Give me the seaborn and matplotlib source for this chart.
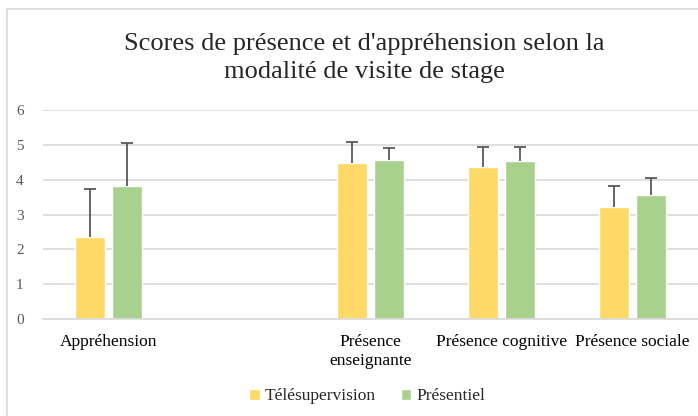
import numpy as np
import pandas as pd
import matplotlib.pyplot as plt
import seaborn as sns
from matplotlib.lines import Line2D

# Values
categories = ["Appréhension", " ", "Présence\nenseignante", "Présence cognitive", "Présence sociale"]
series = ["Télésupervision", "Présentiel"]
tele_means = [2.36, np.nan, 4.47, 4.36, 3.21]
pres_means = [3.82, np.nan, 4.57, 4.53, 3.55]
tele_sd = [1.36, np.nan, 0.62, 0.57, 0.62]
pres_sd = [1.22, np.nan, 0.33, 0.40, 0.49]
y_ticks = [0, 1, 2, 3, 4, 5, 6]

colors = {"Télésupervision": "#FFD966", "Présentiel": "#A9D18E"}

df = pd.DataFrame({
    "categorie": categories * 2,
    "modalite": [series[0]] * len(categories) + [series[1]] * len(categories),
    "score": tele_means + pres_means,
    "sd": tele_sd + pres_sd,
})

sns.set_theme(style="white")
plt.rcParams['font.family'] = ['Liberation Serif', 'DejaVu Serif']

fig = plt.figure(figsize=(6.98, 4.16), dpi=100)
ax = fig.add_axes([43 / 698, 1 - 319 / 416, 1 - 43 / 698, (319 - 110) / 416])

sns.barplot(data=df.dropna(), x="categorie", y="score", hue="modalite",
            order=categories, hue_order=series, palette=colors,
            width=0.565, gap=0.21, errorbar=None, saturation=1,
            legend=True, ax=ax)

# plus-only error bars placed on the drawn bars
for container, name in zip(ax.containers, series):
    sub = df[df["modalite"] == name].dropna().set_index("categorie")
    xs, ys, es = [], [], []
    for bar in container:
        h = bar.get_height()
        if np.isnan(h):
            continue
        cx = bar.get_x() + bar.get_width() / 2
        cat = categories[int(round(cx))]
        xs.append(cx)
        ys.append(h)
        es.append(sub.loc[cat, "sd"])
    eb = ax.errorbar(xs, ys, yerr=[np.zeros(len(es)), es], fmt="none",
                     ecolor="#595959", elinewidth=1.3, capsize=4, capthick=1.3)
    eb[1][0].set_visible(False)  # no cap at the bar top

ax.set_ylim(0, 6)
ax.set_yticks(y_ticks)
ax.set_xlim(-0.5, len(categories) - 0.5)
ax.yaxis.grid(True, color="#D9D9D9", linewidth=1.2)
ax.set_axisbelow(True)
for s in ["top", "right", "left"]:
    ax.spines[s].set_visible(False)
ax.spines["bottom"].set_color("#D9D9D9")
ax.spines["bottom"].set_linewidth(1.2)
ax.tick_params(axis="y", colors="#595959", labelsize=11, length=0, pad=14)
ax.tick_params(axis="x", colors="black", labelsize=12.5, length=0, pad=11)
for t in ax.get_yticklabels():
    t.set_color("#595959")
ax.set_xlabel("")
ax.set_ylabel("")

leg = ax.legend(loc="center", bbox_to_anchor=(0.495, -0.37),
                ncol=2, frameon=False, fontsize=12.5, handlelength=0.6,
                handleheight=0.6, handletextpad=0.3, columnspacing=1.4)

fig.text(0.522, 1 - 58 / 416,
         "Scores de présence et d'appréhension selon la\nmodalité de visite de stage",
         ha="center", va="center", fontsize=19, linespacing=1.35)

# chart area border (left and top edges visible)
fig.add_artist(Line2D([7 / 698, 7 / 698], [0, 1 - 9 / 416], transform=fig.transFigure,
                      color="#D9D9D9", linewidth=1.2))
fig.add_artist(Line2D([7 / 698, 1], [1 - 9 / 416, 1 - 9 / 416], transform=fig.transFigure,
                      color="#D9D9D9", linewidth=1.2))

fig.savefig("out.png", dpi=100)
